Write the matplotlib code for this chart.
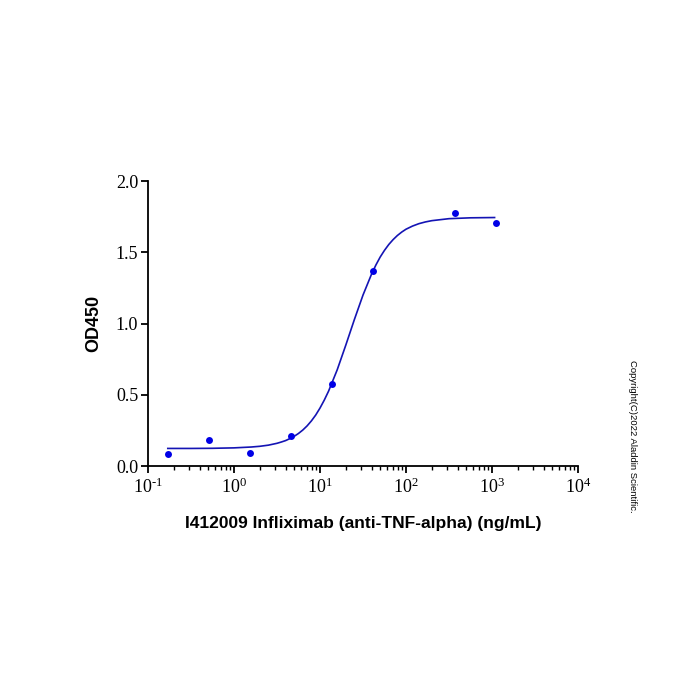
import matplotlib
matplotlib.use('Agg')
import matplotlib.pyplot as plt
from matplotlib.ticker import LogLocator, FixedLocator, NullFormatter

plt.rcParams['font.family'] = 'Liberation Serif'
plt.rcParams['mathtext.default'] = 'regular'

# measured points (ng/mL, OD450)
conc = [0.169, 0.508, 1.52, 4.57, 13.7, 41.2, 370, 1111]
od450 = [0.088, 0.185, 0.095, 0.215, 0.578, 1.366, 1.778, 1.705]

# fitted curve
curve_conc = [0.170, 0.316, 0.562, 1.0, 1.585, 1.995, 2.512, 3.162, 3.548,
              3.981, 4.467, 5.012, 5.623, 6.310, 7.079, 7.943, 8.913, 10.0,
              11.22, 12.59, 15.85, 19.95, 25.12, 31.62, 39.81, 44.67, 50.12,
              56.23, 63.10, 70.79, 79.43, 89.13, 100, 118.9, 141.3, 167.9,
              199.5, 316.2, 562.3, 1072]
curve_od = [0.125, 0.125, 0.126, 0.129, 0.135, 0.140, 0.148, 0.161, 0.170,
            0.180, 0.194, 0.210, 0.230, 0.254, 0.283, 0.318, 0.359, 0.408,
            0.464, 0.527, 0.676, 0.849, 1.029, 1.200, 1.348, 1.411, 1.467,
            1.514, 1.555, 1.589, 1.618, 1.642, 1.662, 1.684, 1.701, 1.713,
            1.722, 1.736, 1.742, 1.744]

yticks = [0.0, 0.5, 1.0, 1.5, 2.0]
xticks = [0.1, 1, 10, 100, 1000, 10000]
xtick_labels = ['$10^{\u2010 1}$', '$10^{0}$', '$10^{1}$', '$10^{2}$',
                '$10^{3}$', '$10^{4}$']

fig = plt.figure(figsize=(7, 7), dpi=100)
ax = fig.add_axes([0.2114, 0.3339, 0.8257 - 0.2114, 0.7414 - 0.3339])

ax.plot(curve_conc, curve_od, '-', color='#1414b4', lw=1.2)
ax.plot(conc, od450, 'o', color='#0000e6', ms=5, mec='none')

ax.set_xscale('log')
ax.set_xlim(0.1, 10000)
ax.set_ylim(0, 2.0)
ax.spines['right'].set_visible(False)
ax.spines['top'].set_visible(False)
for s in ['left', 'bottom']:
    ax.spines[s].set_linewidth(1.3)

ax.xaxis.set_major_locator(FixedLocator(xticks))
ax.set_xticklabels(xtick_labels)
ax.xaxis.set_minor_locator(LogLocator(base=10, subs=range(2, 10), numticks=20))
ax.xaxis.set_minor_formatter(NullFormatter())
ax.set_yticks(yticks)
ax.set_yticklabels(['%.1f' % v for v in yticks])

ax.tick_params(axis='both', which='major', direction='out', length=5,
               width=1.3, labelsize=13, colors='black')
ax.tick_params(axis='x', which='minor', direction='out', length=3, width=1.0)
ax.tick_params(axis='y', pad=2)
ax.tick_params(axis='x', pad=3)

ax.set_xlabel('I412009 Infliximab (anti-TNF-alpha) (ng/mL)',
              family='Liberation Sans', weight='bold', size=12.5, labelpad=14)
ax.set_ylabel('OD450', family='Liberation Sans', weight='bold', size=13,
              labelpad=10)

fig.text(0.903, 0.377, 'Copyright(C)2022 Aladdin Scientific.',
         family='Liberation Sans', size=6.8, rotation=-90,
         ha='center', va='center')

fig.savefig('out.png', dpi=100)
